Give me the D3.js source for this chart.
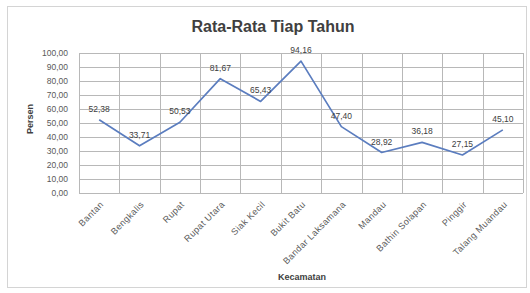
<!DOCTYPE html>
<html>
<head>
<meta charset="utf-8">
<script src="https://cdn.jsdelivr.net/npm/d3@7"></script>
<style>
  html, body { margin: 0; padding: 0; background: #fff; }
  svg { display: block; font-family: "Liberation Sans", Arial, sans-serif; }
</style>
</head>
<body>
<script>
// chart data
const categories = ['Bantan', 'Bengkalis', 'Rupat', 'Rupat Utara', 'Siak Kecil', 'Bukit Batu',
  'Bandar Laksamana', 'Mandau', 'Bathin Solapan', 'Pinggir', 'Talang Muandau'];
const values   = [52.38, 33.71, 50.53, 81.67, 65.43, 94.16, 47.40, 28.92, 36.18, 27.15, 45.10];
const yTicks   = [0, 10, 20, 30, 40, 50, 60, 70, 80, 90, 100];

const width  = 530;
const height = 293;
const margin = { top: 53, right: 7, bottom: 100, left: 79 };

const fmt = (v) => v.toFixed(2).replace('.', ',');

// create svg
const svg = d3.select('body')
  .append('svg')
    .attr('width',  width)
    .attr('height', height);

// chart border
svg.append('rect')
  .attr('x', 7.5).attr('y', 6.5)
  .attr('width', 519).attr('height', 281)
  .attr('fill', '#fff')
  .attr('stroke', '#d4d4d4');

// scales
const x = d3.scaleBand()
  .domain(categories)
  .range([margin.left, width - margin.right])
  .paddingInner(0).paddingOuter(0);

const y = d3.scaleLinear()
  .domain([0, 100])
  .range([height - margin.bottom, margin.top]);

// horizontal grid
svg.append('g')
  .selectAll('line')
  .data(yTicks)
  .join('line')
    .attr('x1', margin.left).attr('x2', width - margin.right)
    .attr('y1', (d) => Math.round(y(d)) + 0.5).attr('y2', (d) => Math.round(y(d)) + 0.5)
    .attr('stroke', '#b8b8b8');

// vertical grid at category boundaries
const bounds = categories.map((c) => x(c)).concat([x.range()[1]]);
svg.append('g')
  .selectAll('line')
  .data(bounds)
  .join('line')
    .attr('x1', (d) => Math.round(d) + 0.5).attr('x2', (d) => Math.round(d) + 0.5)
    .attr('y1', y(100)).attr('y2', y(0))
    .attr('stroke', '#b8b8b8');

// y axis labels
const yAxis = svg.append('g')
  .attr('transform', `translate(${margin.left - 11},0)`)
  .call(d3.axisLeft(y).tickValues(yTicks).tickFormat(fmt).tickSize(0).tickPadding(0));
yAxis.select('.domain').remove();
yAxis.selectAll('text')
  .attr('fill', '#595959')
  .attr('font-size', 8.5)
  .attr('font-family', '"Liberation Sans", Arial, sans-serif');

// x axis labels
const xAxis = svg.append('g')
  .attr('transform', `translate(0,${y(0)})`)
  .call(d3.axisBottom(x).tickSize(0).tickPadding(0));
xAxis.select('.domain').remove();
xAxis.selectAll('text')
  .attr('fill', '#595959')
  .attr('font-size', 9)
  .attr('font-family', '"Liberation Sans", Arial, sans-serif')
  .attr('letter-spacing', 0.4)
  .attr('text-anchor', 'end')
  .attr('dy', 0)
  .attr('transform', 'translate(5,12) rotate(-45)');

// line
const cx = (d, i) => x(categories[i]) + x.bandwidth() / 2;
svg.append('path')
  .datum(values)
  .attr('fill', 'none')
  .attr('stroke', '#5b7dbf')
  .attr('stroke-width', 1.7)
  .attr('stroke-linejoin', 'round')
  .attr('d', d3.line().x(cx).y((d) => y(d)));

// data labels
svg.append('g')
  .selectAll('text')
  .data(values)
  .join('text')
    .attr('x', cx)
    .attr('y', (d) => y(d) - 8)
    .attr('text-anchor', 'middle')
    .attr('fill', '#404040')
    .attr('font-size', 8.5)
    .text(fmt);

// title
svg.append('text')
  .attr('x', 273).attr('y', 32)
  .attr('text-anchor', 'middle')
  .attr('font-size', 16)
  .attr('font-weight', 'bold')
  .attr('fill', '#404040')
  .text('Rata-Rata Tiap Tahun');

// axis titles
svg.append('text')
  .attr('transform', `translate(33,${(y(0) + y(100)) / 2 - 4}) rotate(-90)`)
  .attr('text-anchor', 'middle')
  .attr('font-size', 9)
  .attr('font-weight', 'bold')
  .attr('fill', '#404040')
  .text('Persen');

svg.append('text')
  .attr('x', 302).attr('y', 280)
  .attr('text-anchor', 'middle')
  .attr('font-size', 9)
  .attr('font-weight', 'bold')
  .attr('fill', '#404040')
  .text('Kecamatan');
</script>
</body>
</html>
